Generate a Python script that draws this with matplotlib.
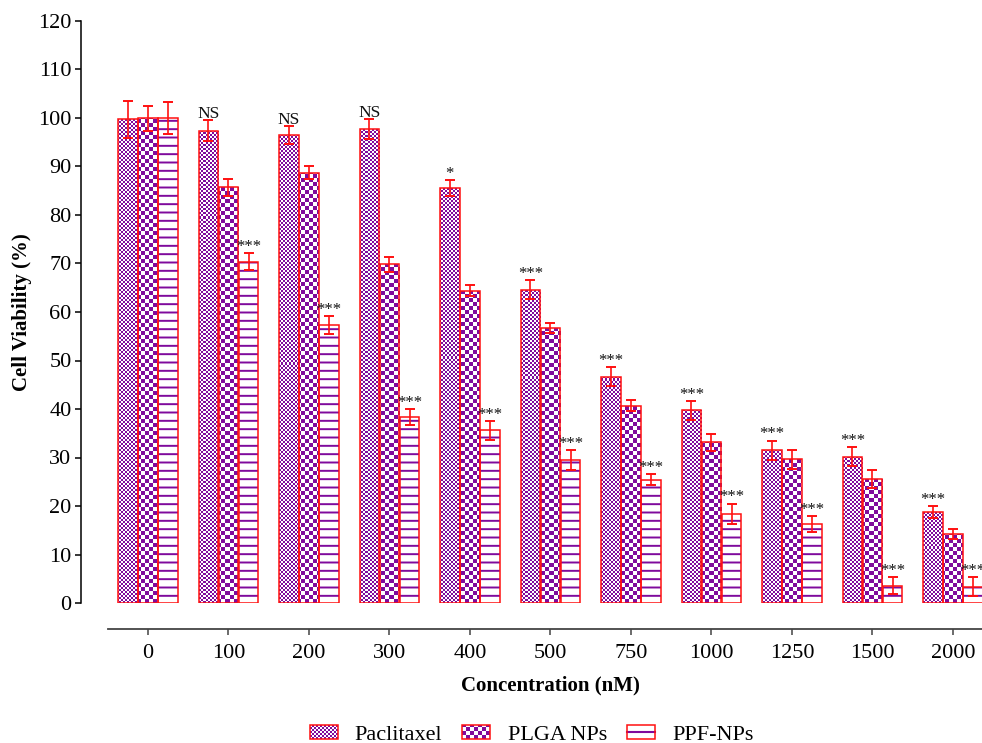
# Cell viability bar chart: Paclitaxel vs PLGA NPs vs PPF-NPs
import numpy as np
import matplotlib
matplotlib.use('Agg')
import matplotlib.pyplot as plt
from matplotlib.colors import ListedColormap
from matplotlib.patches import Rectangle
from matplotlib.lines import Line2D
from matplotlib.legend_handler import HandlerBase

plt.rcParams['font.family'] = ['Liberation Serif', 'DejaVu Serif']
plt.rcParams['hatch.linewidth'] = 1.4

# data
concentrations = ['0', '100', '200', '300', '400', '500', '750', '1000', '1250', '1500', '2000']
paclitaxel = [99.7, 97.4, 96.5, 97.7, 85.6, 64.6, 46.7, 39.7, 31.5, 30.2, 18.8]
paclitaxel_err = [3.9, 2.2, 1.9, 2.0, 1.7, 1.9, 2.0, 2.0, 2.0, 2.0, 1.2]
plga_nps = [99.9, 85.7, 88.7, 69.8, 64.4, 56.7, 40.7, 33.1, 29.6, 25.6, 14.2]
plga_nps_err = [2.6, 1.7, 1.3, 1.5, 1.2, 1.1, 1.2, 1.8, 2.0, 1.9, 1.1]
ppf_nps = [100.0, 70.4, 57.3, 38.3, 35.6, 29.5, 25.4, 18.4, 16.3, 3.6, 3.4]
ppf_nps_err = [3.4, 1.8, 1.8, 1.6, 1.9, 2.1, 1.1, 2.1, 1.6, 1.8, 2.0]
paclitaxel_sig = ['', 'NS', 'NS', 'NS', '*', '***', '***', '***', '***', '***', '***']
ppf_nps_sig = ['', '***', '***', '***', '***', '***', '***', '***', '***', '***', '***']

PURPLE = '#7f0a9c'
RED = '#ff1010'

W_PX, H_PX = 982, 743
fig = plt.figure(figsize=(W_PX / 100, H_PX / 100), dpi=100)
ax_l, ax_r, ax_b, ax_t = 81, 982, 603, 21
ax = fig.add_axes([ax_l / W_PX, 1 - ax_b / H_PX, (ax_r - ax_l) / W_PX, (ax_b - ax_t) / H_PX])
ax_w, ax_h = ax_r - ax_l, ax_b - ax_t

x = np.arange(len(concentrations))
xmin = -0.832
xmax = xmin + ax_w / 80.5
ax.set_xlim(xmin, xmax)
ax.set_ylim(0, 120)

width = 0.24
step = 0.25


def checker_image(cell):
    nx = int(np.ceil(ax_w / cell))
    ny = int(np.ceil(ax_h / cell))
    ii, jj = np.meshgrid(np.arange(nx), np.arange(ny))
    return (ii + jj) % 2, nx * cell / ax_w, ny * cell / ax_h


def checker_bars(xpos, vals, cell):
    bars = ax.bar(xpos, vals, width, facecolor='white', edgecolor=RED, linewidth=1.1, zorder=3)
    img, fx, fy = checker_image(cell)
    cmap = ListedColormap(['white', PURPLE])
    for b in bars:
        b.set_facecolor('none')
        im = ax.imshow(img, cmap=cmap, interpolation='nearest', aspect='auto',
                       extent=(0, fx, 0, fy), transform=ax.transAxes, zorder=2)
        im.set_clip_path(b)
    return bars


checker_bars(x - step, paclitaxel, 2)
checker_bars(x, plga_nps, 4)
ax.bar(x + step, ppf_nps, width, facecolor='white', edgecolor=PURPLE, hatch='--', linewidth=0, zorder=2)
ax.bar(x + step, ppf_nps, width, facecolor='none', edgecolor=RED, linewidth=1.1, zorder=3)

for off, vals, errs in [(-step, paclitaxel, paclitaxel_err), (0, plga_nps, plga_nps_err),
                        (step, ppf_nps, ppf_nps_err)]:
    ax.errorbar(x + off, vals, yerr=errs, fmt='none', ecolor=RED, elinewidth=1.2,
                capsize=3.6, capthick=1.4, zorder=4)

# significance marks
for off, vals, errs, sig in [(-step, paclitaxel, paclitaxel_err, paclitaxel_sig),
                             (step, ppf_nps, ppf_nps_err, ppf_nps_sig)]:
    for xi, v, e, s in zip(x, vals, errs, sig):
        if not s:
            continue
        fs = 12.5 if s == 'NS' else 12
        ax.annotate(s, (xi + off, v + e), xytext=(0, 1.5), textcoords='offset points',
                    ha='center', va='baseline', fontsize=fs, color='#111111',
                    annotation_clip=False, zorder=5)

ax.set_xlim(xmin, xmax)
ax.set_ylim(0, 120)

# axes styling
ax.spines['top'].set_visible(False)
ax.spines['right'].set_visible(False)
ax.spines['left'].set_linewidth(1.1)
ax.spines['bottom'].set_linewidth(1.3)
ax.spines['bottom'].set_color('#444444')
ax.spines['bottom'].set_position(('outward', 26 * 0.72))
ax.spines['bottom'].set_bounds(-0.5, xmax)

ax.set_yticks(np.arange(0, 121, 10))
ax.set_xticks(x)
ax.set_xticklabels(concentrations)
ax.tick_params(axis='y', direction='out', length=4.3, width=1.1, labelsize=16, pad=2.5)
ax.tick_params(axis='x', direction='out', length=4.3, width=1.1, labelsize=16, pad=6.5,
               color='#444444')

ax.set_ylabel('Cell Viability (%)', fontsize=15, fontweight='bold')
ax.set_xlabel('Concentration (nM)', fontsize=15, fontweight='bold')
ax.yaxis.set_label_coords((32 - ax_l) / ax_w, 0.5)
ax.xaxis.set_label_coords((550 - ax_l) / ax_w, (ax_b - 675) / ax_h)


class PatternHandler(HandlerBase):
    def __init__(self, cell=None):
        super().__init__()
        self.cell = cell

    def create_artists(self, legend, orig_handle, xdescent, ydescent, width, height, fontsize, trans):
        x0, y0 = -xdescent, -ydescent
        arts = [Rectangle((x0, y0), width, height, facecolor='white', edgecolor='none', transform=trans)]
        if self.cell:
            c = self.cell * 0.72
            nx = int(np.ceil(width / c))
            ny = int(np.ceil(height / c))
            for i in range(nx):
                for j in range(ny):
                    if (i + j) % 2:
                        arts.append(Rectangle((x0 + i * c, y0 + j * c), min(c, width - i * c),
                                              min(c, height - j * c), facecolor=PURPLE,
                                              edgecolor='none', transform=trans))
        else:
            arts.append(Line2D([x0, x0 + width], [y0 + height / 2] * 2, color=PURPLE,
                               linewidth=1.5, transform=trans))
        arts.append(Rectangle((x0, y0), width, height, facecolor='none', edgecolor=RED,
                              linewidth=1.1, transform=trans))
        return arts


h1, h2, h3 = Rectangle((0, 0), 1, 1), Rectangle((0, 0), 1, 1), Rectangle((0, 0), 1, 1)
fig.legend([h1, h2, h3], ['Paclitaxel', 'PLGA NPs', 'PPF-NPs'],
           handler_map={h1: PatternHandler(2), h2: PatternHandler(4), h3: PatternHandler(None)},
           loc='center', bbox_to_anchor=(531.5 / W_PX, 1 - 735 / H_PX), ncol=3, frameon=False,
           fontsize=16, handlelength=1.26, handleheight=0.54, handletextpad=0.77,
           columnspacing=0.9, borderpad=0)

fig.savefig('out.png', dpi=100)
